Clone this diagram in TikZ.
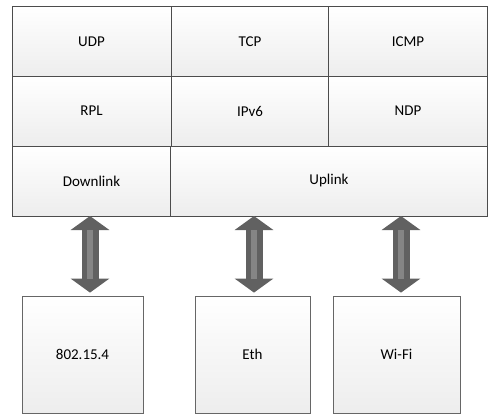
\documentclass[tikz,border=0pt]{standalone}
\usepackage{fontspec}
\setmainfont{Carlito}
\usetikzlibrary{arrows.meta}

\tikzset{
  cell/.style={draw=black!70,line width=0.9pt,top color=white,bottom color=black!7,
    minimum width=159pt,minimum height=70pt,inner sep=0pt,font=\fontsize{15}{18}\selectfont},
  phybox/.style={draw=black!60,line width=0.8pt,top color=white,bottom color=black!7,
    minimum height=117pt,inner sep=0pt,font=\fontsize{15}{18}\selectfont},
  fatarrow/.style={line width=17pt,draw=black!62,
    {Triangle[width=38pt,length=14pt]}-{Triangle[width=38pt,length=14pt]}},
  fatcore/.style={line width=6pt,draw=black!48,shorten <=14pt,shorten >=14pt}
}

\begin{document}
\begin{tikzpicture}[x=1pt,y=-1pt]
\useasboundingbox (0,0) rectangle (488,415);

% stack
\node[cell] (udp) at (91.5,41.5) {UDP};
\node[cell,minimum width=158pt] (tcp) at (250,41.5) {TCP};
\node[cell] (icmp) at (408,41.5) {ICMP};
\node[cell] (rpl) at (91.5,111) {RPL};
\node[cell,minimum width=158pt] (ipv6) at (250,111) {IPv6};
\node[cell] (ndp) at (408,111) {NDP};
\node[cell] (down) at (91.5,181) {Downlink};
\node[cell,minimum width=317pt] (up) at (329,181) {Uplink};

% interfaces
\node[phybox,minimum width=121pt] (lowpan) at (82.5,354.5) {802.15.4};
\node[phybox,minimum width=115pt] (eth) at (252.5,354.5) {Eth};
\node[phybox,minimum width=127pt] (wifi) at (396.5,354.5) {Wi-Fi};

% links
\coordinate (a1) at (90,216);
\coordinate (a2) at (254,216);
\coordinate (a3) at (401,216);
\draw[fatarrow] (a1) -- ([yshift=3pt]a1 |- lowpan.north);
\draw[fatcore] (a1) -- ([yshift=3pt]a1 |- lowpan.north);
\draw[fatarrow] (a2) -- ([yshift=3pt]a2 |- eth.north);
\draw[fatcore] (a2) -- ([yshift=3pt]a2 |- eth.north);
\draw[fatarrow] (a3) -- ([yshift=3pt]a3 |- wifi.north);
\draw[fatcore] (a3) -- ([yshift=3pt]a3 |- wifi.north);
\end{tikzpicture}
\end{document}
